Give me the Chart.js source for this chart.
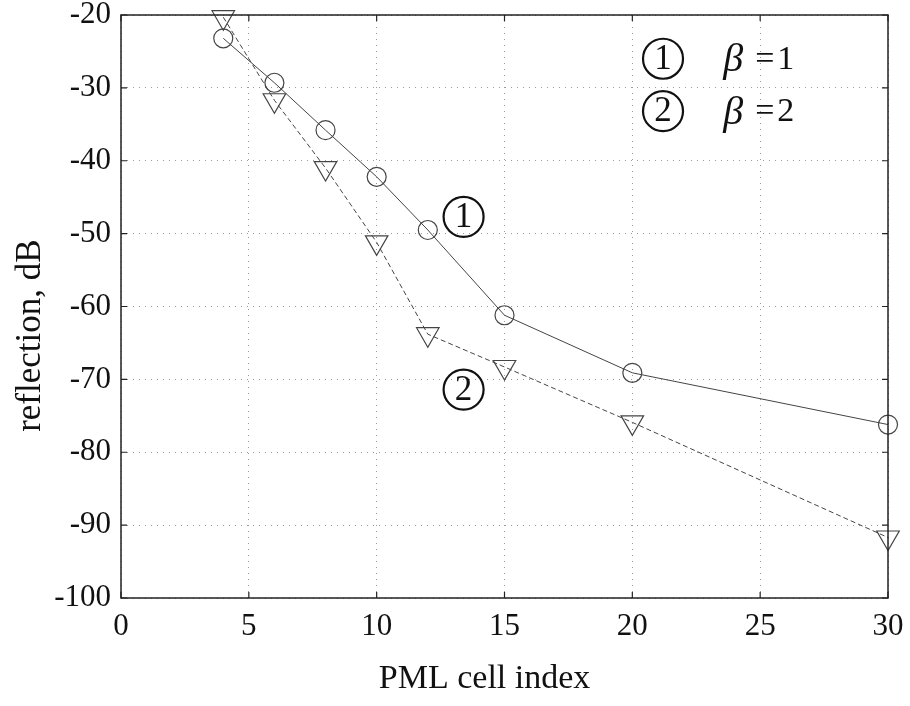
<!DOCTYPE html>
<html>
<head>
<meta charset="utf-8">
<title>PML reflection</title>
<script src="https://cdn.jsdelivr.net/npm/chart.js@4.4.1/dist/chart.umd.min.js"></script>
<style>
  html, body { margin: 0; padding: 0; background: #fff; }
  #wrap { width: 910px; height: 706px; }
</style>
</head>
<body>
<div id="wrap"><canvas id="chart" width="910" height="706"></canvas></div>
<script>
// datos
const cellIndex = [4, 6, 8, 10, 12, 15, 20, 30];
const reflBeta1 = [-23.2, -29.3, -35.8, -42.2, -49.5, -61.2, -69.1, -76.2];
const reflBeta2 = [-20.3, -31.7, -41.0, -51.2, -63.8, -68.3, -75.9, -91.7];
const xTickValues = [0, 5, 10, 15, 20, 25, 30];
const yTickValues = [-100, -90, -80, -70, -60, -50, -40, -30, -20];
const curveLabels = ['1', '2'];
const legendBetas = ['1', '2'];
const xTitle = 'PML cell index';
const yTitle = 'reflection, dB';

const SERIF = '"Liberation Serif", "Times New Roman", serif';

function toPoints(xs, ys) {
    return xs.map((x, i) => ({ x: x, y: ys[i] }));
}

function drawCircled(ctx, x, y, text) {
    ctx.save();
    ctx.beginPath();
    ctx.arc(x, y, 20, 0, Math.PI * 2);
    ctx.lineWidth = 2.2;
    ctx.strokeStyle = '#111';
    ctx.stroke();
    ctx.fillStyle = '#111';
    ctx.font = '35px ' + SERIF;
    ctx.textAlign = 'center';
    ctx.textBaseline = 'middle';
    ctx.fillText(text, x, y + 1);
    ctx.restore();
}

// caja, marcas hacia adentro, titulos y anotaciones
const framePlugin = {
    id: 'frame',
    afterDatasetsDraw(chart) {
        const { ctx, chartArea: a, scales } = chart;
        const xs = scales.x, ys = scales.y;
        ctx.save();
        ctx.strokeStyle = '#222';
        ctx.lineWidth = 1.5;
        ctx.strokeRect(a.left, a.top, a.right - a.left, a.bottom - a.top);

        ctx.lineWidth = 1.2;
        ctx.beginPath();
        xTickValues.forEach(v => {
            const px = xs.getPixelForValue(v);
            ctx.moveTo(px, a.bottom); ctx.lineTo(px, a.bottom - 6);
            ctx.moveTo(px, a.top); ctx.lineTo(px, a.top + 6);
        });
        yTickValues.forEach(v => {
            const py = ys.getPixelForValue(v);
            ctx.moveTo(a.left, py); ctx.lineTo(a.left + 6, py);
            ctx.moveTo(a.right, py); ctx.lineTo(a.right - 6, py);
        });
        ctx.stroke();

        // titulos de ejes
        ctx.fillStyle = '#111';
        ctx.textAlign = 'center';
        ctx.textBaseline = 'alphabetic';
        ctx.font = '34px ' + SERIF;
        ctx.fillText(xTitle, a.left + (a.right - a.left) * 0.474, a.bottom + 90);
        ctx.translate(40, a.top + (a.bottom - a.top) * 0.55);
        ctx.rotate(-Math.PI / 2);
        ctx.font = '35px ' + SERIF;
        ctx.fillText(yTitle, 0, 0);
        ctx.restore();

        // etiquetas sobre las curvas
        drawCircled(ctx, xs.getPixelForValue(13.4), ys.getPixelForValue(-47.7), curveLabels[0]);
        drawCircled(ctx, xs.getPixelForValue(13.4), ys.getPixelForValue(-71.4), curveLabels[1]);

        // leyenda
        const legendY = [-26.0, -33.2];
        legendBetas.forEach((b, i) => {
            const py = ys.getPixelForValue(legendY[i]);
            drawCircled(ctx, xs.getPixelForValue(21.2), py, curveLabels[i]);
            const px = xs.getPixelForValue(23.6);
            ctx.save();
            ctx.fillStyle = '#111';
            ctx.textBaseline = 'middle';
            ctx.textAlign = 'left';
            ctx.font = 'italic 40px ' + SERIF;
            ctx.fillText('\u03B2', px - 1, py + 2);
            ctx.font = '34px ' + SERIF;
            ctx.fillText('=', px + 31, py + 1);
            ctx.fillText(b, px + 53, py + 1);
            ctx.restore();
        });
    }
};

const ctx = document.getElementById('chart').getContext('2d');
new Chart(ctx, {
    type: 'scatter',
    data: {
        datasets: [{
            label: 'beta = 1',
            data: toPoints(cellIndex, reflBeta1),
            showLine: true,
            borderColor: '#444',
            borderWidth: 1,
            pointStyle: 'circle',
            pointRadius: 9.5,
            pointBorderColor: '#444',
            pointBorderWidth: 1.2,
            pointBackgroundColor: 'rgba(0,0,0,0)',
            clip: false
        }, {
            label: 'beta = 2',
            data: toPoints(cellIndex, reflBeta2),
            showLine: true,
            borderColor: '#444',
            borderWidth: 1,
            borderDash: [5, 3],
            pointStyle: 'triangle',
            rotation: 180,
            pointRadius: 13,
            pointBorderColor: '#444',
            pointBorderWidth: 1.2,
            pointBackgroundColor: 'rgba(0,0,0,0)',
            clip: false
        }]
    },
    options: {
        responsive: false,
        animation: false,
        layout: { padding: { top: 15, right: 22, left: 0, bottom: 0 } },
        plugins: {
            legend: { display: false },
            tooltip: { enabled: false }
        },
        scales: {
            x: {
                type: 'linear',
                min: 0,
                max: 30,
                afterBuildTicks: s => { s.ticks = xTickValues.map(v => ({ value: v })); },
                afterFit: s => { s.height = 108; s.paddingLeft = 0; s.paddingRight = 0; },
                ticks: {
                    color: '#111',
                    font: { family: SERIF, size: 31 },
                    padding: 10,
                    maxRotation: 0
                },
                grid: { color: '#999', lineWidth: 1, drawTicks: false },
                border: { display: false, dash: [1, 5] },
                title: { display: false }
            },
            y: {
                min: -100,
                max: -20,
                afterBuildTicks: s => { s.ticks = yTickValues.map(v => ({ value: v })); },
                afterFit: s => { s.width = 121; s.paddingTop = 0; s.paddingBottom = 0; },
                ticks: {
                    color: '#111',
                    font: { family: SERIF, size: 31 },
                    padding: 10
                },
                grid: { color: '#999', lineWidth: 1, drawTicks: false },
                border: { display: false, dash: [1, 5] },
                title: { display: false }
            }
        }
    },
    plugins: [framePlugin]
});
</script>
</body>
</html>
